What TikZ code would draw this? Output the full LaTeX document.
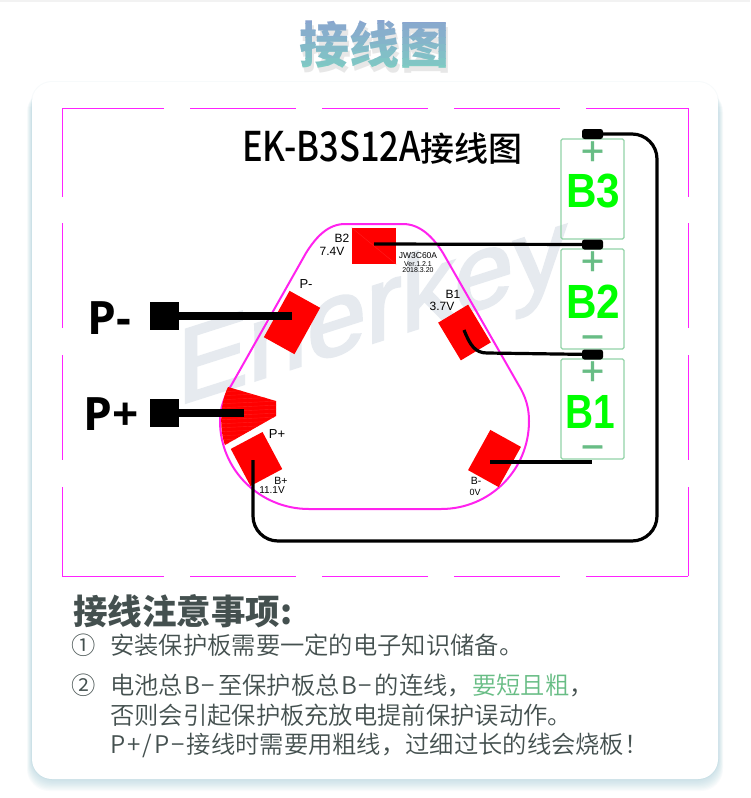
\documentclass[tikz,border=0pt]{standalone}
\usepackage{fontspec}
\setmainfont{Liberation Sans}
\newfontfamily\cjk{Noto Sans CJK SC}
\newfontfamily\cjkmed{Noto Sans CJK SC Medium}
\newfontfamily\cjklight{Noto Sans CJK SC DemiLight}
\newfontfamily\headfont[FakeStretch=0.84]{Noto Sans CJK SC Medium}
\newfontfamily\battfont[FakeStretch=0.88]{Liberation Sans Bold}
\newfontfamily\termfont{Open Sans Bold}
\newfontfamily\markfont[FakeBold=2.5]{Liberation Sans}
\newfontfamily\signfont[FakeBold=1]{Liberation Sans}
\newcommand{\fs}[1]{\fontsize{#1}{#1}\selectfont}
\newcommand{\zhcomma}{\char"FF0C\relax}
\newcommand{\zhbang}{\char"FF01\relax}
\newcommand{\bminus}{\kern1.5pt B\kern1.5pt −\kern3pt}
\definecolor{framepink}{HTML}{FF22FF}
\definecolor{boardpink}{HTML}{FF22EE}
\definecolor{battgreen}{HTML}{93D3A8}
\definecolor{signgreen}{HTML}{68BD85}
\definecolor{notegray}{HTML}{44504F}
\definecolor{markgray}{HTML}{E6EAEF}
\definecolor{cardshade}{HTML}{9CC8D6}
\definecolor{titletop}{HTML}{8AA4CF}
\definecolor{titlebot}{HTML}{7ECBC3}
\tikzset{
  pad/.style={fill=red,inner sep=0pt},
  padline/.style={red!88!white,line width=.4pt},
  term/.style={fill=black,minimum width=29pt,minimum height=28pt,inner sep=0pt},
  tab/.style={fill=black,rounded corners=2.5pt,minimum width=21pt,minimum height=10pt,inner sep=0pt},
  batt/.style={draw=battgreen,line width=1.3pt,rounded corners=1.5pt,minimum width=63pt,minimum height=100pt,inner sep=0pt},
  battname/.style={text=green,font=\battfont\fs{48}},
  sign/.style={text=signgreen,font=\signfont\fs{40}},
  wire/.style={line width=3.2pt},
  fatwire/.style={line width=8.5pt},
  frameline/.style={framepink,line width=1pt},
  small/.style={inner sep=0pt,font=\fs{#1}},
  note/.style={anchor=west,inner sep=0pt,text=notegray,font=\cjklight\fs{24.3}}
}
\begin{document}
\begin{tikzpicture}[x=1pt,y=-1pt]
  \useasboundingbox (0,0) rectangle (750,798);
  \fill[white] (0,0) rectangle (750,798);
  \fill[black!5] (0,0) rectangle (750,2);
  % card with its soft edge
  \fill[cardshade,opacity=.08,rounded corners=21pt] (31,81) rectangle (719,780);
  \foreach \d in {10,9,...,1}
    \fill[cardshade,opacity=.06,rounded corners=22pt] (32-\d*.5,90) rectangle (718+\d*.5,779+\d*1.2);
  \fill[white,rounded corners=20pt] (32,82) rectangle (718,779);
  % title
  \node[text=black!30,opacity=.3,font=\cjk\bfseries\fs{50}] (titleshade) at (376,49) {接线图};
  \foreach \i/\m in {0/0,1/14,2/28,3/42,4/56,5/70,6/85,7/100} {
    \begin{scope}
      \clip (290,16+\i*7) rectangle (460,23+\i*7);
      \node[text=titlebot!\m!titletop,font=\cjk\bfseries\fs{50}] (title\i) at (374,44) {接线图};
    \end{scope}
  }
  % dashed frame, cut by hand
  \foreach \a/\b in {62/164,190/296,322/428,454/560,586/688} {
    \draw[frameline] (\a,108) -- (\b,108);
    \draw[frameline] (\a,576) -- (\b,576);
  }
  \foreach \a/\b in {108/197,223/328,355/460,487/576} {
    \draw[frameline] (62,\a) -- (62,\b);
    \draw[frameline] (688,\a) -- (688,\b);
  }
  \node[text=markgray,yslant=.32,anchor=base,font=\markfont\fs{106}] (mark) at (372,343) {Enerkey};
  % board
  \draw[boardpink,line width=2pt] (345,224) -- (403,224)
    .. controls (420,224) and (433,237) .. (443,253) -- (518,384)
    .. controls (526,397) and (529,408) .. (529,421)
    .. controls (529,470) and (490,509) .. (441,509) -- (309,509)
    .. controls (260,509) and (220,470) .. (220,421)
    .. controls (220,408) and (224,397) .. (232,384) -- (306,253)
    .. controls (316,237) and (328,224) .. (345,224);
  % pads
  \node[pad,minimum width=44pt,minimum height=36pt] (padbtwo) at (374,246) {};
  \node[pad,minimum width=35pt,minimum height=53pt,rotate=-29] (padpminus) at (292,322.5) {};
  \node[pad,minimum width=35pt,minimum height=44pt,rotate=31] (padbone) at (464.5,332.5) {};
  \node[pad,minimum width=35pt,minimum height=46pt,rotate=-29] (padbminus) at (494.5,458.5) {};
  \node[pad,minimum width=36pt,minimum height=42pt,rotate=28] (padbplus) at (256.5,459) {};
  \draw[padline] (padbtwo.north west) -- (padbtwo.south east);
  \begin{scope}
    \clip (228,387) -- (276,401) -- (276,416) -- (225,445) .. controls (220,432) and (219,405) .. cycle;
    \fill[red] (215,380) rectangle (280,450);
    \foreach \y in {392,396,...,444}
      \draw[padline] (215,\y) -- (280,\y-3);
  \end{scope}
  \coordinate (padpplus) at (244,413);
  % labels on the board
  \node[small=12] (lbbtwo) at (342,238) {B2};
  \node[small=12] (lbbtwov) at (332,251) {7.4V};
  \node[small=8.5] (lbchip) at (418,256) {JW3C60A};
  \node[small=7] (lbver) at (418,264) {Ver.1.2.1};
  \node[small=7] (lbdate) at (418,270) {2018.3.20};
  \node[small=13] (lbpminus) at (306,284) {P-};
  \node[small=12] (lbbone) at (453,294) {B1};
  \node[small=12] (lbbonev) at (442,306) {3.7V};
  \node[small=13] (lbpplus) at (277,434) {P+};
  \node[small=10.5] (lbbplus) at (281,481) {B+};
  \node[small=10] (lbbplusv) at (272,490) {11.1V};
  \node[small=10.5] (lbbminus) at (476,481) {B-};
  \node[small=9] (lbbminusv) at (475,492) {0V};
  % terminals
  \node[term] (tminus) at (164.5,316) {};
  \node[term] (tplus) at (164.5,413) {};
  \node[font=\termfont\fs{46}] (lbtminus) at (109,318) {P-};
  \node[font=\termfont\fs{46}] (lbtplus) at (111,414) {P+};
  % batteries
  \node[batt] (battthree) at (592.5,189) {};
  \node[batt] (batttwo) at (592.5,299) {};
  \node[batt] (battone) at (592.5,409) {};
  \node[tab] (tabthree) at (592.5,134) {};
  \node[tab] (tabtwo) at (592.5,244.5) {};
  \node[tab] (tabone) at (592.5,354.5) {};
  \node[battname] (namethree) at (593,191) {B3};
  \node[battname] (nametwo) at (593,302) {B2};
  \node[battname,transform shape,xscale=.92] (nameone) at (590.5,412) {B1};
  \node[sign] (plusthree) at (592.5,153) {+};
  \node[sign] (plustwo) at (592.5,263) {+};
  \node[sign] (plusone) at (592.5,373) {+};
  \node[sign] (minustwo) at (592.5,343) {−};
  \node[sign] (minusone) at (592.5,453) {−};
  % wires
  \draw[fatwire] (tminus.center) -- (292,316) coordinate (endpminus);
  \draw[fatwire] (tplus.center) -- (padpplus);
  \draw[wire] (padbtwo.center) ++(0,-2) -- (tabtwo.center);
  \coordinate (startbone) at (464,330);
  \draw[wire] (startbone) .. controls (470,345) and (475,353) .. (487,353) -- (tabone.center);
  \coordinate (startbminus) at (490,462);
  \coordinate (endbminus) at (592,462);
  \draw[line width=3.6pt] (startbminus) -- (endbminus);
  \coordinate (startbplus) at (253,460);
  \coordinate (turnbr) at (657,541);
  \draw[wire,rounded corners=25pt] (startbplus) |- (turnbr) |- (tabthree.center);
  % heading and notes
  \node[text=black,inner sep=0pt,anchor=west,font=\headfont\fs{41}] (head) at (242,148) {EK-B3S12A\cjkmed\fs{34}接线图};
  \node[anchor=west,inner sep=0pt,text=notegray,font=\cjk\bfseries\fs{34.5}] (notehead) at (73,611) {接线注意事项:};
  \node[note] (numone) at (71,645.5) {①};
  \node[note] (noteone) at (110,645.5) {安装保护板需要一定的电子知识储备。};
  \node[note] (numtwo) at (71,685) {②};
  \node[note] (notetwo) at (110,685) {电池总\bminus 至保护板总\bminus 的连线\zhcomma\textcolor{signgreen}{要短且粗}\zhcomma};
  \node[note] (notethree) at (110,715) {否则会引起保护板充放电提前保护误动作。};
  \node[note] (notefour) at (110,745) {P\kern2pt+\kern2pt/\kern2pt P\kern2pt−\kern2pt 接线时需要用粗线\zhcomma 过细过长的线会烧板\zhbang};
\end{tikzpicture}
\end{document}
